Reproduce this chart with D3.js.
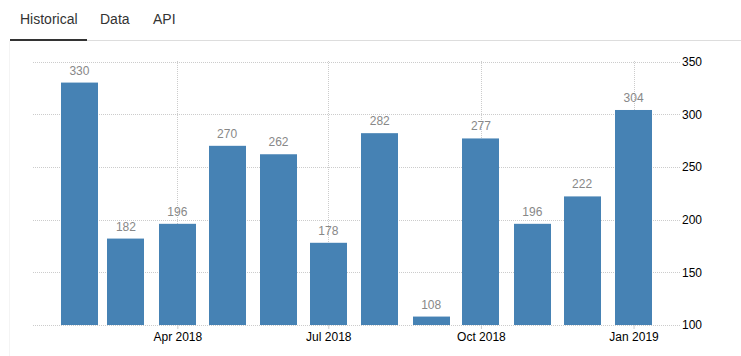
<!DOCTYPE html>
<html>
<head>
<meta charset="utf-8">
<script src="https://cdn.jsdelivr.net/npm/d3@7"></script>
<style>
  body { margin: 0; background: #fff; font-family: Arial, "Liberation Sans", sans-serif; }
  svg { display: block; }
</style>
</head>
<body>
<svg id="chart" width="741" height="356"></svg>
<script>
const months = ["2018-02-01","2018-03-01","2018-04-01","2018-05-01","2018-06-01","2018-07-01","2018-08-01","2018-09-01","2018-10-01","2018-11-01","2018-12-01","2019-01-01"];
const values = [330, 182, 196, 270, 262, 178, 282, 108, 277, 196, 222, 304];
const yTicks = [100, 150, 200, 250, 300, 350];
const xTickDates = ["2018-04-01","2018-07-01","2018-10-01","2019-01-01"];
const tabs = ["Historical", "Data", "API"];

const parse = d3.utcParse("%Y-%m-%d");
const data = months.map((m, i) => ({ date: parse(m), value: values[i] }));

const svg = d3.select("#chart");

// Tabs
const tabX = [20, 100, 153];
svg.selectAll("text.tab").data(tabs).join("text")
  .attr("class", "tab")
  .attr("x", (d, i) => tabX[i]).attr("y", 24)
  .attr("font-size", 14).attr("fill", "#333")
  .text(d => d);
svg.append("rect").attr("x", 87).attr("y", 40).attr("width", 654).attr("height", 1).attr("fill", "#ddd");
svg.append("rect").attr("x", 10).attr("y", 39).attr("width", 77).attr("height", 2).attr("fill", "#333");
svg.append("rect").attr("x", 9).attr("y", 41).attr("width", 1).attr("height", 315).attr("fill", "#f4f4f4");

// Scales
const x = d3.scaleUtc()
  .domain([parse("2018-01-04"), parse("2019-01-29")])
  .range([33, 680]);
const y = d3.scaleLinear().domain([100, 350]).range([325, 61.5]);
const barW = 37;

// Horizontal grid
svg.append("g").selectAll("line").data(yTicks).join("line")
  .attr("x1", 33).attr("x2", 680)
  .attr("y1", d => Math.round(y(d)) + 0.5).attr("y2", d => Math.round(y(d)) + 0.5)
  .attr("stroke", "#ccc").attr("stroke-dasharray", "1,1");

// Vertical grid
const xt = xTickDates.map(parse);
svg.append("g").selectAll("line").data(xt).join("line")
  .attr("x1", d => Math.round(x(d)) + 0.5).attr("x2", d => Math.round(x(d)) + 0.5)
  .attr("y1", 61).attr("y2", 325)
  .attr("stroke", "#ccc").attr("stroke-dasharray", "1,1");

// Bars
svg.append("g").selectAll("rect").data(data).join("rect")
  .attr("x", d => Math.round(x(d.date) - barW / 2))
  .attr("width", barW)
  .attr("y", d => y(d.value))
  .attr("height", d => y(100) - y(d.value))
  .attr("fill", "#4682b4");

// Value labels
svg.append("g").selectAll("text").data(data).join("text")
  .attr("x", d => x(d.date))
  .attr("y", d => y(d.value) - 8)
  .attr("text-anchor", "middle")
  .attr("font-size", 12).attr("fill", "#888")
  .text(d => d.value);

// Y axis (right side)
const yAxis = d3.axisRight(y).tickValues(yTicks).tickSize(0).tickPadding(0);
const gy = svg.append("g").attr("transform", "translate(682,0)").call(yAxis);
gy.select(".domain").remove();
gy.selectAll("text").attr("font-size", 12).attr("font-family", "Arial, 'Liberation Sans', sans-serif").attr("fill", "#000");

// X axis
const fmt = d3.utcFormat("%b %Y");
const xAxis = d3.axisBottom(x).tickValues(xt).tickFormat(fmt).tickSize(4).tickPadding(3);
const gx = svg.append("g").attr("transform", "translate(0,325)").call(xAxis);
gx.select(".domain").remove();
gx.selectAll(".tick line").attr("stroke", "#ccc");
gx.selectAll("text").attr("font-size", 12).attr("font-family", "Arial, 'Liberation Sans', sans-serif").attr("fill", "#000");
</script>
</body>
</html>
